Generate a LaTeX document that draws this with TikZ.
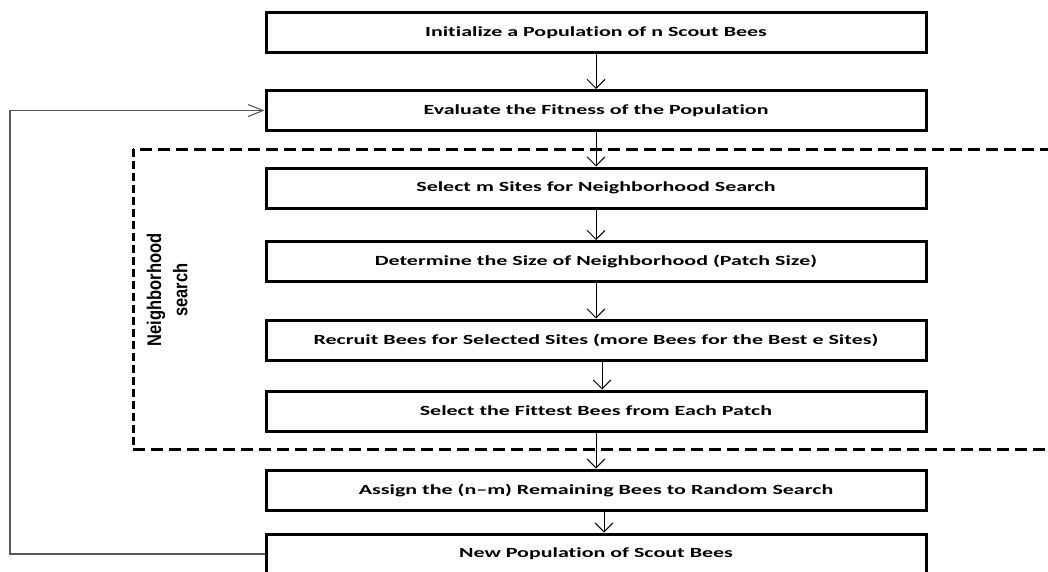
\documentclass[tikz,border=0pt]{standalone}
\usepackage{fontspec}
\usepackage{graphicx}
\setmainfont{Carlito}
\newfontfamily\stepfont{Carlito}[FakeStretch=1.57, Ligatures={NoCommon,TeX}]
\newfontfamily\labelfont{Liberation Sans}
\usetikzlibrary{arrows.meta}
\begin{document}
\begin{tikzpicture}[x=1pt,y=-1pt,
  stepbox/.style={draw, line width=3pt, minimum width=660pt, minimum height=40pt,
    inner sep=0pt, font=\stepfont\bfseries\fontsize{14}{16}\selectfont},
  flow/.style={line width=0.9pt, -{Straight Barb[length=9pt,width=18pt,line width=0.9pt]}},
  back/.style={line width=1.2pt, draw=black!65, -{Straight Barb[length=15pt,width=12pt,line width=1.1pt]}},
  dashh/.style={line width=3pt, dash pattern=on 12pt off 6pt},
  dashv/.style={line width=3pt, dash pattern=on 8pt off 4pt}]
\useasboundingbox (0,0) rectangle (1048,571);

% process steps
\node[stepbox] (init)    at (596,32.7)  {Initialize a Population of n Scout Bees};
\node[stepbox] (eval)    at (596,110.5) {Evaluate the Fitness of the Population};
\node[stepbox] (select)  at (596,188)   {Select m Sites for Neighborhood Search};
\node[stepbox] (size)    at (596,261.5) {Determine the Size of Neighborhood (Patch Size)};
\node[stepbox] (recruit) at (596,340)   {Recruit Bees for Selected Sites (more Bees for the Best e Sites)};
\node[stepbox] (fittest) at (596,411)   {Select the Fittest Bees from Each Patch};
\node[stepbox] (assign)  at (596,490)   {Assign the (n\textendash m) Remaining Bees to Random Search};
\node[stepbox] (newpop)  at (596,554)   {New Population of Scout Bees};

% neighborhood search frame
\coordinate (nbTL) at (133,149);
\coordinate (nbBL) at (133,449);
\coordinate (nbTR) at (1052,149);
\coordinate (nbBR) at (1052,449);
\draw[dashh] (nbTR) -- (nbTL);
\draw[dashh] (nbBL) -- (nbBR);
\draw[dashv] (nbTL) -- (nbBL);
\node[rotate=90, inner sep=0pt, font=\labelfont\bfseries\fontsize{16.5}{22}\selectfont] (nblabel) at (169,290)
  {\scalebox{1}[1.2]{\begin{tabular}{@{}c@{}}Neighborhood\\search\end{tabular}}};

% flow connectors
\draw[flow] (init.south) -- (eval.north);
\draw[flow] (eval.south) -- (select.north);
\draw[flow] (select.south) -- (size.north);
\draw[flow] (size.south) -- (recruit.north);
\draw[flow] ([xshift=6pt]recruit.south) -- ([xshift=6pt]fittest.north);
\draw[flow] (fittest.south) -- (assign.north);
\draw[flow] ([xshift=8pt]assign.south) -- ([xshift=8pt]newpop.north);

% feedback loop
\coordinate (loopx) at (10,0);
\draw[back] (newpop.west) -- (newpop.west -| loopx) |- (eval.west);
\end{tikzpicture}
\end{document}
